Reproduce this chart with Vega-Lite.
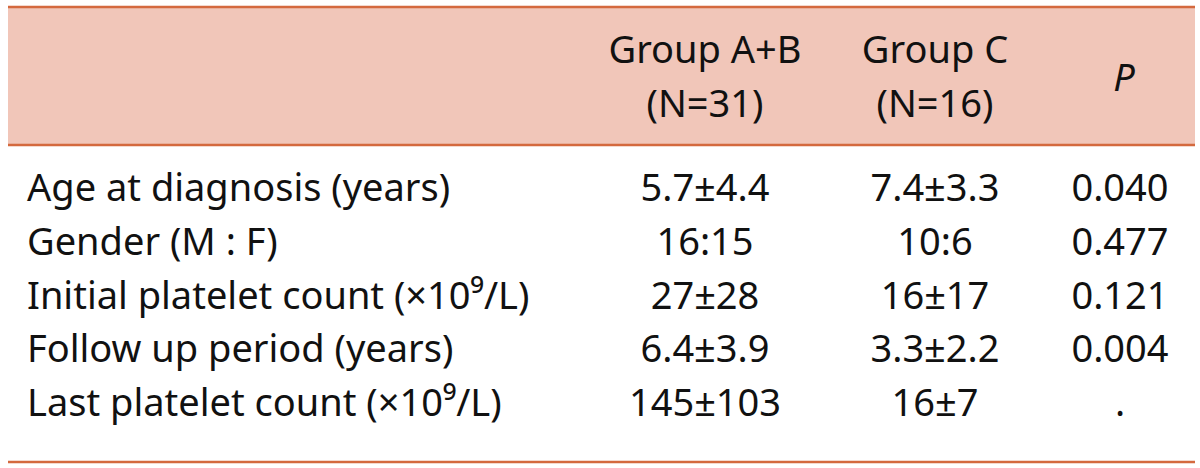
{
  "$schema": "https://vega.github.io/schema/vega-lite/v6.json",
  "width": 1187,
  "height": 468,
  "padding": {"left": 8, "right": 5, "top": 0, "bottom": 0},
  "autosize": {"type": "none"},
  "background": "white",
  "config": {
    "view": {"stroke": null},
    "text": {"font": "Noto Sans", "fontSize": 38, "fill": "#111111", "baseline": "middle"}
  },
  "datasets": {
    "frame": [{"part": "header"}],
    "edgesTop": [{"edge": "top"}, {"edge": "mid"}],
    "edgesBottom": [{"edge": "bottom"}],
    "header": [
      {"line": "1", "groupAB": "Group A+B", "groupC": "Group C"},
      {"line": "2", "groupAB": "(N=31)", "groupC": "(N=16)"}
    ],
    "pHeader": [{"part": "header", "label": "P"}],
    "rows": [
      {"characteristic": "Age at diagnosis (years)", "groupAB": "5.7±4.4", "groupC": "7.4±3.3", "p": "0.040"},
      {"characteristic": "Gender (M : F)", "groupAB": "16:15", "groupC": "10:6", "p": "0.477"},
      {"characteristic": "Initial platelet count (×10⁹/L)", "groupAB": "27±28", "groupC": "16±17", "p": "0.121"},
      {"characteristic": "Follow up period (years)", "groupAB": "6.4±3.9", "groupC": "3.3±2.2", "p": "0.004"},
      {"characteristic": "Last platelet count (×10⁹/L)", "groupAB": "145±103", "groupC": "16±7", "p": "."}
    ]
  },
  "resolve": {"scale": {"x": "independent", "y": "independent"}},
  "layer": [
    {
      "data": {"name": "frame"},
      "mark": {"type": "rect", "color": "#f1c6b9"},
      "encoding": {
        "y": {"field": "part", "type": "nominal", "axis": null,
              "scale": {"type": "band", "domain": ["header"], "range": [7, 145], "paddingInner": 0, "paddingOuter": 0}}
      }
    },
    {
      "data": {"name": "edgesTop"},
      "mark": {"type": "rule", "color": "#d4693e", "strokeWidth": 2.5},
      "encoding": {
        "y": {"field": "edge", "type": "nominal", "axis": null,
              "scale": {"type": "point", "domain": ["top", "mid"], "range": [7, 145], "padding": 0}}
      }
    },
    {
      "data": {"name": "edgesBottom"},
      "mark": {"type": "rule", "color": "#d4693e", "strokeWidth": 2.5},
      "encoding": {
        "y": {"field": "edge", "type": "nominal", "axis": null,
              "scale": {"type": "point", "domain": ["bottom"], "range": [462, 462], "padding": 0}}
      }
    },
    {
      "data": {"name": "header"},
      "mark": {"type": "text", "align": "center"},
      "encoding": {
        "text": {"field": "groupAB"},
        "x": {"datum": "groupAB", "type": "nominal", "axis": null,
              "scale": {"type": "point", "domain": ["groupAB"], "range": [697, 697]}},
        "y": {"field": "line", "type": "nominal", "axis": null,
              "scale": {"type": "point", "domain": ["1", "2"], "range": [52, 106], "padding": 0}}
      }
    },
    {
      "data": {"name": "header"},
      "mark": {"type": "text", "align": "center"},
      "encoding": {
        "text": {"field": "groupC"},
        "x": {"datum": "groupC", "type": "nominal", "axis": null,
              "scale": {"type": "point", "domain": ["groupC"], "range": [927, 927]}},
        "y": {"field": "line", "type": "nominal", "axis": null,
              "scale": {"type": "point", "domain": ["1", "2"], "range": [52, 106], "padding": 0}}
      }
    },
    {
      "data": {"name": "pHeader"},
      "mark": {"type": "text", "align": "center", "fontStyle": "italic"},
      "encoding": {
        "text": {"field": "label"},
        "x": {"datum": "p", "type": "nominal", "axis": null,
              "scale": {"type": "point", "domain": ["p"], "range": [1116, 1116]}},
        "y": {"field": "part", "type": "nominal", "axis": null,
              "scale": {"type": "point", "domain": ["header"], "range": [80, 80], "padding": 0}}
      }
    },
    {
      "data": {"name": "rows"},
      "mark": {"type": "text", "align": "left"},
      "encoding": {
        "text": {"field": "characteristic"},
        "x": {"datum": "characteristic", "type": "nominal", "axis": null,
              "scale": {"type": "point", "domain": ["characteristic"], "range": [19, 19]}},
        "y": {"field": "characteristic", "type": "nominal", "axis": null, "sort": null,
              "scale": {"type": "point", "range": [190, 405], "padding": 0}}
      }
    },
    {
      "data": {"name": "rows"},
      "mark": {"type": "text", "align": "center"},
      "encoding": {
        "text": {"field": "groupAB"},
        "x": {"datum": "groupAB", "type": "nominal", "axis": null,
              "scale": {"type": "point", "domain": ["groupAB"], "range": [697, 697]}},
        "y": {"field": "characteristic", "type": "nominal", "axis": null, "sort": null,
              "scale": {"type": "point", "range": [190, 405], "padding": 0}}
      }
    },
    {
      "data": {"name": "rows"},
      "mark": {"type": "text", "align": "center"},
      "encoding": {
        "text": {"field": "groupC"},
        "x": {"datum": "groupC", "type": "nominal", "axis": null,
              "scale": {"type": "point", "domain": ["groupC"], "range": [927, 927]}},
        "y": {"field": "characteristic", "type": "nominal", "axis": null, "sort": null,
              "scale": {"type": "point", "range": [190, 405], "padding": 0}}
      }
    },
    {
      "data": {"name": "rows"},
      "mark": {"type": "text", "align": "center"},
      "encoding": {
        "text": {"field": "p"},
        "x": {"datum": "p", "type": "nominal", "axis": null,
              "scale": {"type": "point", "domain": ["p"], "range": [1112, 1112]}},
        "y": {"field": "characteristic", "type": "nominal", "axis": null, "sort": null,
              "scale": {"type": "point", "range": [190, 405], "padding": 0}}
      }
    }
  ]
}
